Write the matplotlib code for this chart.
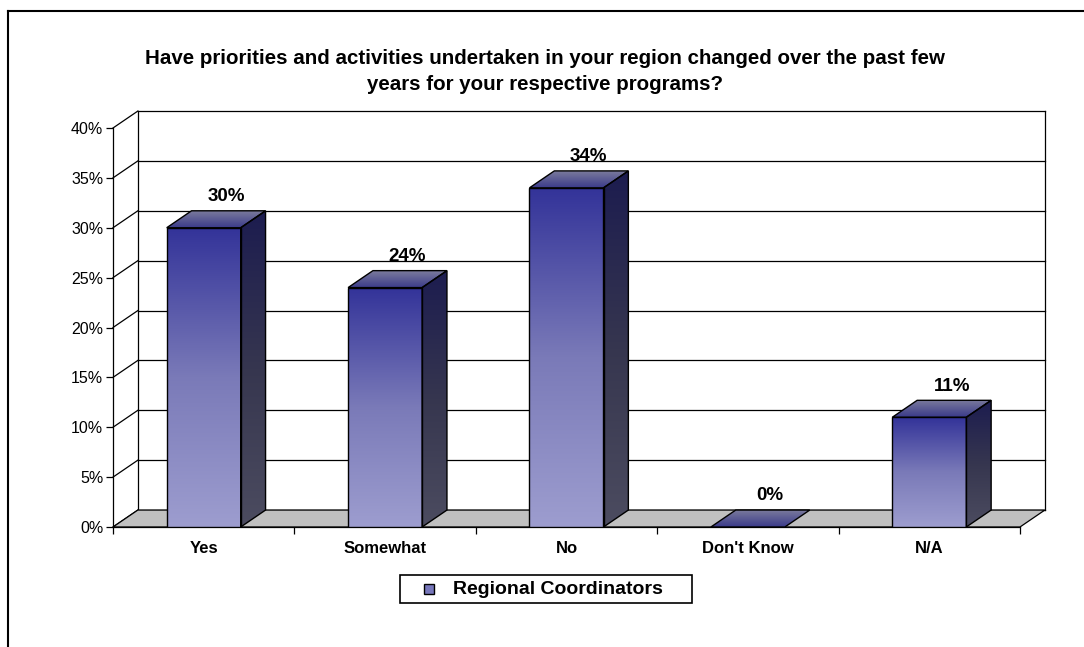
import numpy as np
import matplotlib.pyplot as plt
from matplotlib.patches import Polygon, Rectangle
from matplotlib.colors import LinearSegmentedColormap
from matplotlib.lines import Line2D

plt.rcParams['font.family'] = ['Liberation Sans', 'DejaVu Sans']

# survey answers and share of responses (%)
categories = ['Yes', 'Somewhat', 'No', "Don't Know", 'N/A']
values = [30, 24, 34, 0, 11]
value_labels = ['30%', '24%', '34%', '0%', '11%']
y_ticks = [0, 5, 10, 15, 20, 25, 30, 35, 40]
series_name = 'Regional Coordinators'
title = ('Have priorities and activities undertaken in your region changed over the past few\n'
         'years for your respective programs?')

# pseudo-3D depth offset (in data units) and bar half width
DX, DY = 0.137, 1.70
HALF = 0.204

front_cmap = LinearSegmentedColormap.from_list('front', ['#9d9dcf', '#7a7ab8', '#333399'])
side_cmap = LinearSegmentedColormap.from_list('side', ['#4c4c60', '#36364f', '#1c1c50'])
top_cmap = LinearSegmentedColormap.from_list('top', ['#3a3a8a', '#7a7a9c'])
grad = np.linspace(0, 1, 256).reshape(-1, 1)

W, H = 1084, 647
fig = plt.figure(figsize=(W / 100, H / 100), dpi=100)
ax = fig.add_axes([113 / W, 120 / H, 907 / W, 399 / H])
ax.set_xlim(-0.5, 4.5)
ax.set_ylim(0, 40)

# outer chart frame
fig.add_artist(Line2D([8 / W, 1.0], [1 - 11 / H, 1 - 11 / H], color='black', lw=1.5))
fig.add_artist(Line2D([8 / W, 8 / W], [0, 1 - 11 / H], color='black', lw=1.5))

x0, x1 = -0.5, 4.5
# back wall with gridlines, left side wall diagonals
for y in y_ticks:
    ax.plot([x0 + DX, x1 + DX], [y + DY, y + DY], color='black', lw=0.9, zorder=1, clip_on=False)
    ax.plot([x0, x0 + DX], [y, y + DY], color='black', lw=0.9, zorder=1, clip_on=False)
ax.plot([x0 + DX, x0 + DX], [DY, 40 + DY], color='black', lw=0.9, zorder=1, clip_on=False)
ax.plot([x1 + DX, x1 + DX], [DY, 40 + DY], color='black', lw=0.9, zorder=1, clip_on=False)

# floor
floor = Polygon([(x0, 0), (x1, 0), (x1 + DX, DY), (x0 + DX, DY)], closed=True,
                facecolor='#c0c0c0', edgecolor='black', lw=0.9, zorder=2, clip_on=False)
ax.add_patch(floor)


def shaded(poly_pts, cmap, extent):
    outline = Polygon(poly_pts, closed=True, facecolor='none', edgecolor='black', lw=1.0, zorder=5)
    ax.add_patch(outline)
    im = ax.imshow(grad, extent=extent, origin='lower', cmap=cmap, aspect='auto',
                   interpolation='bilinear', zorder=4)
    im.set_clip_path(outline)


for i, v in enumerate(values):
    l, r = i - HALF, i + HALF
    if v > 0:
        shaded([(l, 0), (r, 0), (r, v), (l, v)], front_cmap, (l, r, 0, v))
        shaded([(r, 0), (r + DX, DY), (r + DX, v + DY), (r, v)], side_cmap,
               (r, r + DX, 0, v + DY))
    shaded([(l, v), (r, v), (r + DX, v + DY), (l + DX, v + DY)], top_cmap,
           (l, r + DX, v, v + DY))
    ax.annotate(value_labels[i], xy=(i + DX * 0.9, v + DY), xytext=(0, 10.3),
                textcoords='offset points', ha='center', va='center',
                fontsize=13.5, fontweight='bold', zorder=6)

ax.set_xlim(-0.5, 4.5)
ax.set_ylim(0, 40)

# axes: front vertical axis and floor front edge
for s in ['top', 'right']:
    ax.spines[s].set_visible(False)
ax.spines['left'].set_linewidth(0.9)
ax.spines['bottom'].set_linewidth(0.9)
ax.spines['left'].set_zorder(3)
ax.set_yticks(y_ticks)
ax.set_yticklabels([f'{t}%' for t in y_ticks], fontsize=11.5)
ax.tick_params(axis='y', length=5, width=0.9, pad=2)
ax.set_xticks(range(len(categories)))
ax.set_xticklabels(categories, fontsize=12, fontweight='bold')
ax.set_xticks(np.arange(-0.5, 5, 1), minor=True)
ax.tick_params(axis='x', which='major', length=0, pad=10)
ax.tick_params(axis='x', which='minor', length=5, width=0.9)

fig.text(545 / W, 1 - 71.5 / H, title, ha='center', va='center', fontsize=14.8,
         fontweight='bold', linespacing=1.5)

# legend box drawn by hand
fig.add_artist(Rectangle((400 / W, 1 - 603 / H), 292 / W, 28 / H, transform=fig.transFigure,
                         facecolor='white', edgecolor='black', lw=1.2))
fig.add_artist(Rectangle((424 / W, 1 - 594 / H), 10 / W, 10 / H, transform=fig.transFigure,
                         facecolor='#7777bb', edgecolor='black', lw=1.0))
fig.text(453 / W, 1 - 589 / H, series_name, ha='left', va='center', fontsize=14,
         fontweight='bold')

fig.savefig('out.png', dpi=100)
